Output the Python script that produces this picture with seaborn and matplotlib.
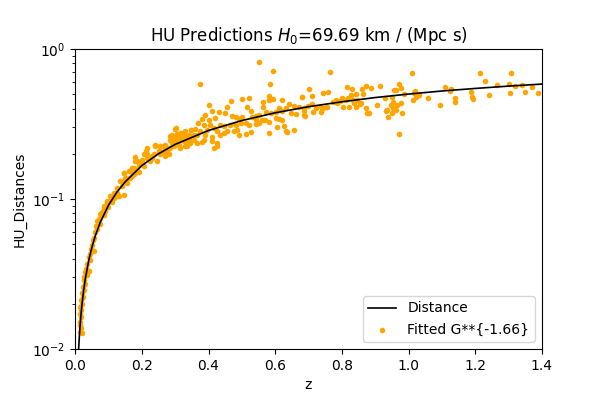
import numpy as np
import pandas as pd
import matplotlib
matplotlib.use("Agg")
import matplotlib.pyplot as plt
import seaborn as sns

# --- fitted distance curve ---
curve_z = [0.010, 0.0125, 0.015, 0.0175, 0.020, 0.025, 0.030, 0.040, 0.050, 0.060,
           0.075, 0.100, 0.125, 0.150, 0.200, 0.250, 0.300, 0.400, 0.500, 0.600,
           0.700, 0.800, 0.900, 1.000, 1.100, 1.200, 1.300, 1.400]
curve_d = [0.0099, 0.0123, 0.0148, 0.0172, 0.0196, 0.0244, 0.0291, 0.0385, 0.0476, 0.0566,
           0.0698, 0.0909, 0.111, 0.130, 0.167, 0.200, 0.231, 0.286, 0.333, 0.375,
           0.412, 0.444, 0.474, 0.500, 0.524, 0.545, 0.565, 0.583]

# --- observed points: low redshift ---
z_low = [0.110, 0.120, 0.125, 0.115, 0.103, 0.095, 0.090, 0.085, 0.097, 0.080,
         0.075, 0.085, 0.070, 0.065, 0.075, 0.063, 0.065, 0.060, 0.055, 0.053,
         0.050, 0.047, 0.055, 0.045, 0.040, 0.043, 0.035, 0.033, 0.030, 0.040,
         0.035, 0.027, 0.025, 0.030, 0.023, 0.025, 0.020, 0.023, 0.017, 0.020,
         0.015, 0.018, 0.013, 0.017, 0.015, 0.013, 0.017, 0.015, 0.020, 0.145]
d_low = [0.105, 0.107, 0.110, 0.101, 0.097, 0.095, 0.089, 0.085, 0.088, 0.082,
         0.079, 0.078, 0.073, 0.071, 0.068, 0.066, 0.063, 0.060, 0.055, 0.053,
         0.049, 0.046, 0.045, 0.043, 0.041, 0.039, 0.037, 0.034, 0.0325, 0.0333,
         0.031, 0.030, 0.0286, 0.0272, 0.0259, 0.0246, 0.0234, 0.0222, 0.0211, 0.020,
         0.019, 0.0181, 0.0172, 0.0164, 0.0152, 0.0144, 0.0137, 0.013, 0.0127, 0.106]

# --- observed points: 0.07 < z < 0.37 ---
z_mid = [0.303, 0.347, 0.287, 0.305, 0.320, 0.335, 0.355, 0.365, 0.290, 0.310,
         0.330, 0.345, 0.255, 0.270, 0.250, 0.265, 0.280, 0.240, 0.215, 0.215,
         0.230, 0.245, 0.200, 0.185, 0.180, 0.193, 0.205, 0.170, 0.145, 0.160,
         0.175, 0.150, 0.135, 0.155, 0.140, 0.125, 0.115, 0.130, 0.105, 0.095,
         0.110, 0.085, 0.090, 0.080, 0.075, 0.120, 0.165, 0.190, 0.220, 0.235,
         0.275]
d_mid = [0.296, 0.289, 0.261, 0.268, 0.255, 0.260, 0.248, 0.268, 0.236, 0.230,
         0.224, 0.236, 0.224, 0.219, 0.208, 0.203, 0.198, 0.224, 0.217, 0.198,
         0.188, 0.180, 0.183, 0.179, 0.190, 0.170, 0.166, 0.161, 0.149, 0.153,
         0.147, 0.138, 0.131, 0.128, 0.122, 0.119, 0.110, 0.105, 0.105, 0.097,
         0.095, 0.090, 0.083, 0.079, 0.075, 0.103, 0.137, 0.150, 0.185, 0.198,
         0.208]

# --- extra points in the crowded 0.14 < z < 0.34 stretch ---
z_fill = [0.300, 0.285, 0.305, 0.320, 0.330, 0.315, 0.295, 0.335, 0.240, 0.255,
          0.270, 0.280, 0.265, 0.250, 0.255, 0.270, 0.230, 0.213, 0.205, 0.215,
          0.225, 0.200, 0.190, 0.180, 0.175, 0.185, 0.165, 0.180, 0.170, 0.160,
          0.145, 0.147]
d_fill = [0.294, 0.261, 0.271, 0.275, 0.261, 0.252, 0.245, 0.245, 0.228, 0.224,
          0.230, 0.219, 0.210, 0.208, 0.198, 0.193, 0.193, 0.210, 0.198, 0.188,
          0.179, 0.174, 0.168, 0.179, 0.161, 0.157, 0.153, 0.149, 0.142, 0.138,
          0.149, 0.132]

# --- observed points: 0.28 < z < 0.49 ---
z_dense = [0.375, 0.402, 0.468, 0.455, 0.390, 0.410, 0.430, 0.450, 0.470, 0.420,
           0.380, 0.400, 0.367, 0.385, 0.405, 0.435, 0.445, 0.465, 0.480, 0.347,
           0.360, 0.375, 0.395, 0.415, 0.425, 0.455, 0.475, 0.330, 0.315, 0.305,
           0.290, 0.300, 0.320, 0.340, 0.355, 0.390, 0.410, 0.435, 0.445, 0.485,
           0.285, 0.305, 0.325, 0.345, 0.365, 0.385, 0.410, 0.425, 0.295, 0.315,
           0.335, 0.380, 0.415, 0.425, 0.285]
d_dense = [0.583, 0.424, 0.450, 0.407, 0.364, 0.387, 0.379, 0.373, 0.355, 0.346,
           0.342, 0.337, 0.320, 0.312, 0.309, 0.312, 0.305, 0.312, 0.315, 0.289,
           0.293, 0.282, 0.289, 0.296, 0.282, 0.285, 0.282, 0.282, 0.275, 0.271,
           0.265, 0.257, 0.260, 0.268, 0.265, 0.268, 0.260, 0.265, 0.275, 0.289,
           0.248, 0.242, 0.242, 0.248, 0.236, 0.248, 0.242, 0.236, 0.224, 0.219,
           0.224, 0.240, 0.220, 0.226, 0.219]

# --- observed points: 0.48 < z < 0.69 ---
z_upper = [0.551, 0.593, 0.583, 0.581, 0.593, 0.581, 0.500, 0.521, 0.563, 0.563,
           0.516, 0.526, 0.621, 0.681, 0.641, 0.656, 0.671, 0.611, 0.631, 0.621,
           0.601, 0.571, 0.586, 0.551, 0.541, 0.531, 0.500, 0.491, 0.481, 0.646,
           0.661, 0.686, 0.601, 0.611, 0.621, 0.569, 0.581, 0.551, 0.541, 0.521,
           0.496, 0.511, 0.626, 0.481, 0.631, 0.656, 0.581, 0.526, 0.511, 0.491,
           0.636, 0.606, 0.561, 0.541, 0.686]
d_upper = [0.820, 0.715, 0.581, 0.489, 0.464, 0.457, 0.461, 0.469, 0.446, 0.407,
           0.413, 0.388, 0.453, 0.476, 0.428, 0.417, 0.413, 0.403, 0.403, 0.383,
           0.377, 0.377, 0.373, 0.364, 0.355, 0.352, 0.350, 0.342, 0.352, 0.373,
           0.370, 0.360, 0.346, 0.341, 0.338, 0.334, 0.324, 0.320, 0.315, 0.313,
           0.320, 0.320, 0.305, 0.313, 0.282, 0.289, 0.275, 0.278, 0.272, 0.268,
           0.278, 0.300, 0.336, 0.336, 0.385]

# --- observed points: high redshift ---
z_high = [0.681, 0.701, 0.711, 0.698, 0.686, 0.688, 0.711, 0.713, 0.723, 0.736,
          0.737, 0.744, 0.751, 0.754, 0.742, 0.757, 0.765, 0.774, 0.781, 0.786,
          0.794, 0.801, 0.802, 0.813, 0.816, 0.819, 0.821, 0.826, 0.831, 0.834,
          0.836, 0.841, 0.843, 0.846, 0.853, 0.856, 0.860, 0.863, 0.871, 0.871,
          0.876, 0.881, 0.886, 0.906, 0.913, 0.928, 0.931, 0.936, 0.938, 0.946,
          0.949, 0.951, 0.952, 0.954, 0.956, 0.961, 0.963, 0.966, 0.971, 0.971,
          0.976, 0.978, 0.981, 0.985, 1.011, 1.013, 1.018, 1.021, 1.023, 1.031,
          1.058, 1.094, 1.111, 1.124, 1.128, 1.141, 1.141, 1.189, 1.192, 1.194,
          1.216, 1.231, 1.242, 1.266, 1.301, 1.306, 1.308, 1.321, 1.341, 1.351,
          1.371, 1.390]
d_high = [0.476, 0.538, 0.486, 0.417, 0.403, 0.355, 0.428, 0.377, 0.403, 0.413,
          0.381, 0.403, 0.413, 0.407, 0.506, 0.519, 0.705, 0.446, 0.457, 0.439,
          0.450, 0.473, 0.409, 0.457, 0.555, 0.473, 0.407, 0.493, 0.541, 0.453,
          0.435, 0.499, 0.413, 0.457, 0.428, 0.435, 0.538, 0.499, 0.566, 0.403,
          0.373, 0.375, 0.546, 0.424, 0.569, 0.473, 0.388, 0.391, 0.351, 0.424,
          0.373, 0.481, 0.446, 0.403, 0.532, 0.532, 0.391, 0.424, 0.581, 0.272,
          0.439, 0.546, 0.373, 0.499, 0.694, 0.457, 0.506, 0.527, 0.481, 0.493,
          0.469, 0.424, 0.560, 0.525, 0.538, 0.473, 0.446, 0.519, 0.481, 0.464,
          0.687, 0.611, 0.493, 0.574, 0.581, 0.506, 0.694, 0.566, 0.574, 0.514,
          0.560, 0.506]

points = pd.DataFrame({
    "z": z_low + z_mid + z_fill + z_dense + z_upper + z_high,
    "d": d_low + d_mid + d_fill + d_dense + d_upper + d_high,
})
curve = pd.DataFrame({"z": curve_z, "d": curve_d})

fig, ax = plt.subplots(figsize=(6.02, 4.01), dpi=100)
fig.subplots_adjust(left=0.125, right=0.9, top=0.878, bottom=0.13)

sns.lineplot(data=curve, x="z", y="d", color="black", linewidth=1.2,
             label="Distance", ax=ax)
sns.scatterplot(data=points, x="z", y="d", color="orange", s=16, linewidth=0,
                label="Fitted G**{-1.66}", ax=ax)

ax.set_yscale("log")
ax.set_xlim(0, 1.4)
ax.set_ylim(1e-2, 1)
ax.set_title("HU Predictions $H_0$=69.69 km / (Mpc s)", fontsize=12)
ax.set_xlabel("z", fontsize=10)
ax.set_ylabel("HU_Distances", fontsize=10)
ax.tick_params(axis="both", which="major", labelsize=10)
ax.legend(loc="lower right", fontsize=10)

fig.savefig("out.png", dpi=100)
